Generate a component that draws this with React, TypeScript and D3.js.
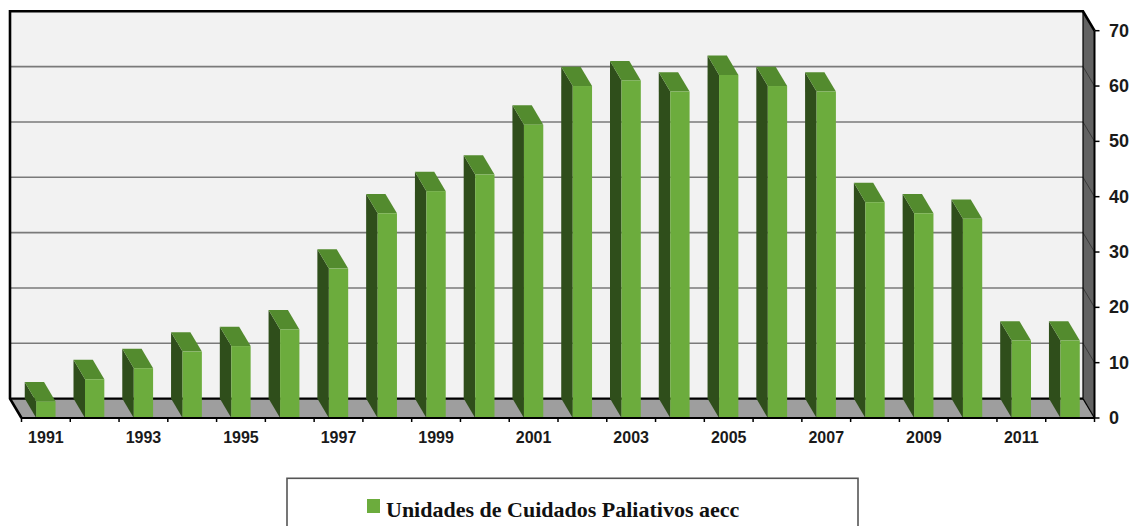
import React from "react";
import * as d3 from "d3";

const years = ["1991","1992","1993","1994","1995","1996","1997","1998","1999","2000","2001","2002","2003","2004","2005","2006","2007","2008","2009","2010","2011","2012"];
const values = [3,7,9,12,13,16,27,37,41,44,53,60,61,59,62,60,59,39,37,36,14,14];
const yTicks = [0,10,20,30,40,50,60,70];
const xTickLabels = ["1991","1993","1995","1997","1999","2001","2003","2005","2007","2009","2011"];
const seriesName = "Unidades de Cuidados Paliativos aecc";

const W = 1137, H = 526;
const BACK_L = 10, BACK_R = 1083;
const DX = 11.5, DY = 19.4;

const C_FRONT = "#6cac3d";
const C_TOP = "#538b2e";
const C_SIDE = "#2f4e1b";

export default function App() {
  const yBack = d3.scaleLinear().domain([0, 70]).range([398.6, 11.3]);
  const yFront = (v: number) => yBack(v) + DY;
  const x = d3.scaleBand<string>().domain(years).range([BACK_L + DX, BACK_R + DX]).padding(0);
  const bw = x.bandwidth() * 0.396;
  const off = (x.bandwidth() - bw) / 2;
  const y0b = yBack(0), y0f = yFront(0);
  const ytop = yBack(70);
  const pts = (a: number[][]) => a.map(p => p.join(",")).join(" ");
  const font = "Arial, 'Liberation Sans', sans-serif";

  return (
    <svg width={W} height={H} style={{ position: "absolute", left: 0, top: 0, background: "#fff" }}>
      <rect x={BACK_L} y={ytop} width={BACK_R - BACK_L} height={y0b - ytop} fill="#f2f2f2" />
      {yTicks.filter(t => t > 0 && t < 70).map(t => (
        <line key={"g" + t} x1={BACK_L} x2={BACK_R} y1={yBack(t)} y2={yBack(t)} stroke="#7a7a7a" strokeWidth={1.6} />
      ))}
      <polygon points={pts([[BACK_R, ytop], [BACK_R + DX, ytop + DY], [BACK_R + DX, y0f], [BACK_R, y0b]])} fill="#626262" />
      {yTicks.filter(t => t > 0 && t < 70).map(t => (
        <line key={"s" + t} x1={BACK_R} x2={BACK_R + DX} y1={yBack(t)} y2={yFront(t)} stroke="#3a3a3a" strokeWidth={1} />
      ))}
      <polygon points={pts([[BACK_L, y0b], [BACK_R, y0b], [BACK_R + DX, y0f], [BACK_L + DX, y0f]])} fill="#9e9e9e" />
      <polyline points={pts([[BACK_L + DX, y0f], [BACK_L, y0b], [BACK_L, ytop], [BACK_R, ytop], [BACK_R + DX, ytop + DY]])} fill="none" stroke="#000" strokeWidth={2.6} strokeLinejoin="miter" />
      <line x1={BACK_L} x2={BACK_R} y1={y0b} y2={y0b} stroke="#000" strokeWidth={2.2} />
      <line x1={BACK_R} x2={BACK_R} y1={ytop} y2={y0b} stroke="#000" strokeWidth={1.2} />
      <line x1={BACK_R} x2={BACK_R + DX} y1={y0b} y2={y0f} stroke="#000" strokeWidth={1.2} />
      {years.map((yr, i) => {
        const v = values[i];
        const x0 = (x(yr) as number) + off;
        const x1 = x0 + bw;
        const yf = yFront(v), yb = yBack(v);
        return (
          <g key={yr}>
            <polygon points={pts([[x0 - DX, yb], [x0, yf], [x0, y0f], [x0 - DX, y0b]])} fill={C_SIDE} />
            <polygon points={pts([[x0 - DX, yb], [x1 - DX, yb], [x1, yf], [x0, yf]])} fill={C_TOP} />
            <rect x={x0} y={yf} width={bw} height={y0f - yf} fill={C_FRONT} />
          </g>
        );
      })}
      <line x1={BACK_L + DX} x2={BACK_R + DX} y1={y0f} y2={y0f} stroke="#000" strokeWidth={2} />
      {years.concat(["end"]).map((yr, i) => {
        const xx = BACK_L + DX + i * x.step();
        return <line key={"xt" + i} x1={xx} x2={xx} y1={y0f} y2={y0f + 4} stroke="#000" strokeWidth={1.5} />;
      })}
      {xTickLabels.map(l => (
        <text key={"xl" + l} x={(x(l) as number) + x.bandwidth() / 2} y={437} textAnchor="middle" dominantBaseline="central" fontFamily={font} fontWeight="bold" fontSize={16} fill="#1a1a1a">{l}</text>
      ))}
      <line x1={BACK_R + DX} x2={BACK_R + DX} y1={ytop + DY} y2={y0f} stroke="#000" strokeWidth={2} />
      {yTicks.map(t => (
        <g key={"yt" + t}>
          <line x1={BACK_R + DX} x2={BACK_R + DX + 5} y1={yFront(t)} y2={yFront(t)} stroke="#000" strokeWidth={1.5} />
          <text x={1109} y={yFront(t)} dominantBaseline="central" fontFamily={font} fontWeight="bold" fontSize={18} fill="#1a1a1a">{t}</text>
        </g>
      ))}
      <rect x={287} y={478.3} width={571} height={60} fill="#fff" stroke="#555" strokeWidth={1.6} />
      <rect x={367} y={499} width={13} height={14} fill={C_FRONT} />
      <text x={386} y={517} fontFamily="'Liberation Serif', 'Times New Roman', serif" fontWeight="bold" fontSize={22} fill="#111">{seriesName}</text>
    </svg>
  );
}
